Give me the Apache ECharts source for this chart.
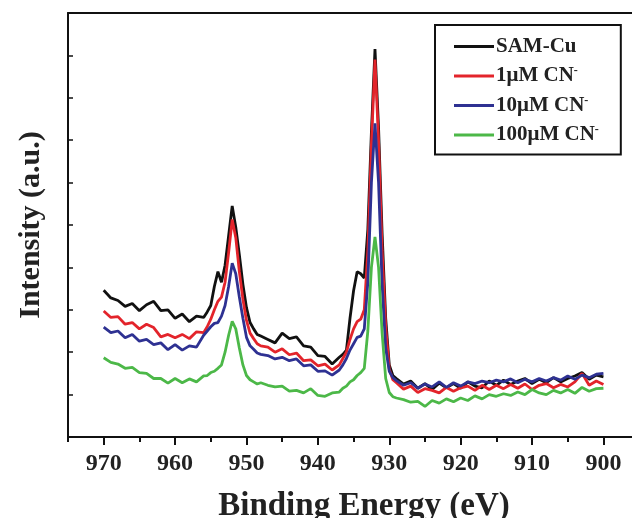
<!DOCTYPE html>
<html>
<head>
  <meta charset="utf-8">
  <title>Cu 2p XPS</title>
  <script src="https://cdn.jsdelivr.net/npm/echarts@6/dist/echarts.min.js"></script>
  <style>
    html, body { margin: 0; padding: 0; background: #fff; }
    #main { width: 632px; height: 518px; }
  </style>
</head>
<body>
<div id="main"></div>
<script>
  // binding energy (eV), finer steps around the two Cu 2p peaks
  var energy = [970, 969, 968, 967, 966, 965, 964, 963, 962, 961, 960, 959, 958, 957, 956,
    955.5, 955, 954.5, 954, 953.5, 953, 952.5, 952, 951.5, 951, 950.5, 950, 949.5, 949, 948.5, 948,
    947, 946, 945, 944, 943, 942, 941, 940, 939, 938, 937,
    936.5, 936, 935.5, 935, 934.5, 934, 933.5, 933, 932.5, 932, 931.5, 931, 930.5, 930, 929.5, 929,
    928, 927, 926, 925, 924, 923, 922, 921, 920, 919, 918, 917, 916, 915, 914, 913, 912, 911, 910,
    909, 908, 907, 906, 905, 904, 903, 902, 901, 900];

  var samCu = [3.46, 3.28, 3.22, 3.08, 3.15, 2.98, 3.12, 3.2, 2.98, 3.0, 2.8, 2.9, 2.72, 2.85, 2.82,
    2.95, 3.1, 3.55, 3.9, 3.65, 4.05, 4.75, 5.45, 4.95, 4.3, 3.6, 3.05, 2.7, 2.55, 2.42, 2.38,
    2.3, 2.22, 2.45, 2.32, 2.36, 2.15, 2.12, 1.92, 1.9, 1.72, 1.88,
    1.95, 2.05, 2.8, 3.45, 3.9, 3.85, 3.75, 4.9, 7.2, 9.15, 7.3, 4.8, 2.8, 1.7, 1.45, 1.38,
    1.25, 1.32, 1.15, 1.26, 1.12, 1.27, 1.16, 1.26, 1.15, 1.3, 1.2, 1.16, 1.32, 1.22, 1.34, 1.24, 1.32, 1.38, 1.26,
    1.36, 1.28, 1.4, 1.3, 1.38, 1.44, 1.52, 1.36, 1.46, 1.42];

  var cn1 = [2.97, 2.82, 2.84, 2.66, 2.7, 2.55, 2.66, 2.58, 2.36, 2.42, 2.34, 2.42, 2.32, 2.48, 2.46,
    2.6, 2.78, 3.0, 3.2, 3.3, 3.65, 4.35, 5.13, 4.7, 3.9, 3.25, 2.75, 2.45, 2.32, 2.2, 2.15,
    2.12, 2.0, 2.08, 1.94, 1.98, 1.8, 1.82, 1.68, 1.72, 1.58, 1.7,
    1.85, 2.0, 2.3, 2.55, 2.72, 2.78, 3.0, 4.4, 6.9, 8.9, 7.0, 4.4, 2.6, 1.6, 1.35, 1.28,
    1.13, 1.2, 1.05, 1.14, 1.1, 1.04, 1.17, 1.08, 1.16, 1.2, 1.1, 1.22, 1.12, 1.22, 1.14, 1.24, 1.15, 1.25, 1.12,
    1.22, 1.26, 1.16, 1.24, 1.18, 1.3, 1.5, 1.22, 1.32, 1.24];

  var cn10 = [2.59, 2.46, 2.5, 2.34, 2.42, 2.26, 2.3, 2.18, 2.22, 2.06, 2.18, 2.05, 2.15, 2.12, 2.4,
    2.5, 2.6, 2.68, 2.7, 2.85, 3.1, 3.55, 4.1, 3.85, 3.3, 2.8, 2.35, 2.15, 2.07, 1.98, 1.95,
    1.92, 1.84, 1.88, 1.8, 1.84, 1.68, 1.7, 1.55, 1.56, 1.46, 1.58,
    1.7, 1.85, 2.05, 2.2, 2.35, 2.38, 2.55, 3.65, 6.0, 7.4, 6.0, 3.6, 2.1, 1.55, 1.4, 1.33,
    1.22, 1.28, 1.15, 1.25, 1.18, 1.3, 1.17, 1.28, 1.2, 1.3, 1.26, 1.32, 1.28, 1.34, 1.3, 1.37, 1.28, 1.36, 1.3,
    1.38, 1.32, 1.4, 1.34, 1.44, 1.36, 1.46, 1.4, 1.48, 1.5];

  var cn100 = [1.87, 1.76, 1.72, 1.62, 1.64, 1.52, 1.5, 1.38, 1.38, 1.27, 1.38, 1.28, 1.37, 1.3, 1.44,
    1.45, 1.52, 1.55, 1.62, 1.7, 2.0, 2.4, 2.73, 2.55, 2.1, 1.7, 1.45, 1.35, 1.3, 1.25, 1.28,
    1.22, 1.18, 1.2, 1.08, 1.1, 1.04, 1.14, 0.98, 0.96, 1.04, 1.06,
    1.15, 1.2, 1.3, 1.35, 1.45, 1.52, 1.62, 2.5, 4.0, 4.72, 4.0, 2.45, 1.38, 1.05, 0.95, 0.92,
    0.88, 0.82, 0.84, 0.72, 0.86, 0.8, 0.9, 0.83, 0.92, 0.86, 0.97, 0.9, 1.0, 0.96, 1.02, 0.98, 1.06, 1.0, 1.12,
    1.04, 1.0, 1.1, 1.04, 1.12, 1.03, 1.17, 1.08, 1.14, 1.15];

  var majorTicks = [970, 960, 950, 940, 930, 920, 910, 900];
  var minorTicks = [975, 965, 955, 945, 935, 925, 915, 905];

  var names = ['SAM-Cu', '1μM CN-', '10μM CN-', '100μM CN-'];
  var values = [samCu, cn1, cn10, cn100];
  var colors = ['#111111', '#e3242b', '#2e3192', '#4cb848'];

  var font = "'Liberation Serif', 'Times New Roman', serif";

  var myChart = echarts.init(document.getElementById('main'));

  var series = names.map(function (n, k) {
    return {
      name: n,
      type: 'line',
      xAxisIndex: 0,
      showSymbol: false,
      symbol: 'none',
      data: energy.map(function (e, i) { return [e, values[k][i]]; }),
      lineStyle: { color: colors[k], width: 2.8 },
      itemStyle: { color: colors[k] }
    };
  });

  var option = {
    animation: false,
    backgroundColor: '#fff',
    grid: { left: 68, top: 13, bottom: 81, right: 0, outerBoundsMode: 'none' },
    legend: {
      orient: 'vertical',
      left: 435, top: 25,
      padding: [11, 22, 9, 19],
      itemGap: 8,
      itemWidth: 40,
      itemHeight: 3,
      icon: 'rect',
      borderColor: '#111',
      borderWidth: 2,
      data: names,
      formatter: function (n) { return n.replace('CN-', 'CN{sup|-}'); },
      textStyle: {
        fontFamily: font, fontWeight: 'bold', fontSize: 21, color: '#222',
        padding: [0, 0, 0, -3],
        rich: {
          sup: { fontFamily: font, fontWeight: 'bold', fontSize: 12, color: '#222', verticalAlign: 'top', padding: [0, 0, 10, 0] }
        }
      }
    },
    xAxis: [
      {
        type: 'value',
        inverse: true,
        min: 896, max: 975,
        position: 'bottom',
        axisLine: { show: true, lineStyle: { color: '#111', width: 2 } },
        axisTick: { show: true, customValues: majorTicks, length: 8, lineStyle: { color: '#111', width: 2 } },
        axisLabel: {
          customValues: majorTicks, margin: 15,
          fontFamily: font, fontWeight: 'bold', fontSize: 24, color: '#222'
        },
        splitLine: { show: false },
        name: 'Binding Energy (eV)',
        nameLocation: 'middle',
        nameGap: 53,
        nameTextStyle: { fontFamily: font, fontWeight: 'bold', fontSize: 33, color: '#222', padding: [0, 0, 0, 28] }
      },
      {
        type: 'value',
        inverse: true,
        min: 896, max: 975,
        position: 'bottom',
        axisLine: { show: false },
        axisTick: { show: true, customValues: minorTicks, length: 5, lineStyle: { color: '#111', width: 2 } },
        axisLabel: { show: false },
        splitLine: { show: false }
      },
      {
        // top frame line only
        type: 'value',
        inverse: true,
        min: 896, max: 975,
        position: 'top',
        axisLine: { show: true, lineStyle: { color: '#111', width: 2 } },
        axisTick: { show: false },
        axisLabel: { show: false },
        splitLine: { show: false }
      }
    ],
    yAxis: {
      type: 'value',
      min: 0, max: 10, interval: 1,
      axisLine: { show: true, lineStyle: { color: '#111', width: 2 } },
      axisTick: { show: true, inside: true, length: 5, lineStyle: { color: '#111', width: 1.5 } },
      axisLabel: { show: false },
      splitLine: { show: false },
      name: 'Intensity (a.u.)',
      nameLocation: 'middle',
      nameGap: 22,
      nameTextStyle: { fontFamily: font, fontWeight: 'bold', fontSize: 30, color: '#222' }
    },
    series: series
  };

  myChart.setOption(option);
</script>
</body>
</html>
